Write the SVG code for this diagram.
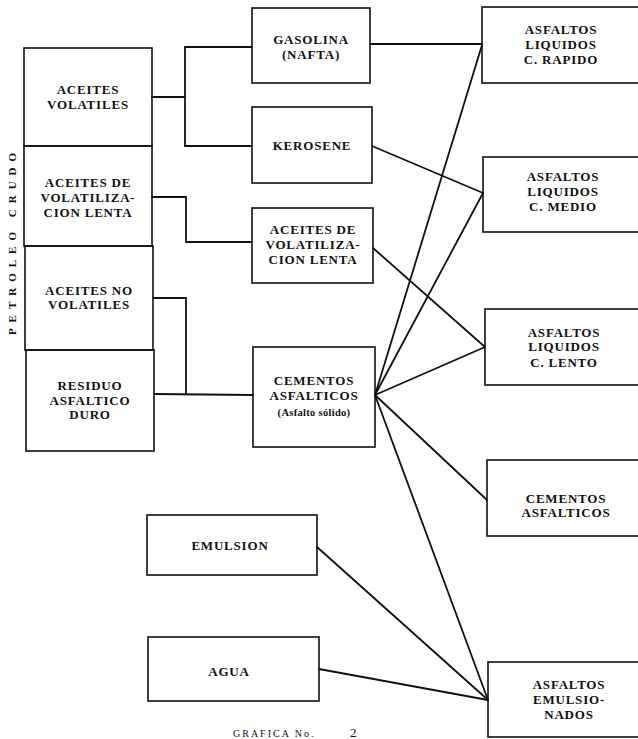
<svg xmlns="http://www.w3.org/2000/svg" width="638" height="739" viewBox="0 0 638 739">
<style>
.box{fill:none;stroke:#111;stroke-width:1.6}
.ln{fill:none;stroke:#111;stroke-width:1.8;stroke-linecap:round;stroke-linejoin:miter}
text{font-family:"Liberation Serif","Times New Roman",serif;font-weight:bold;font-size:13px;fill:#111;text-anchor:middle;letter-spacing:0.8px}
.sm{font-size:10.5px;letter-spacing:0.3px}
</style>
<rect width="638" height="739" fill="#fff"/>
<g id="petroleo-crudo">
<text transform="translate(16,241) rotate(-90)" style="font-size:11px;letter-spacing:6px">PETROLEO CRUDO</text>
</g>
<g id="aceites-volatiles">
<rect class="box" x="24" y="48" width="128" height="98"/>
<text x="88" y="94">ACEITES</text><text x="88" y="109">VOLATILES</text>
</g>
<g id="aceites-volatilizacion-lenta-1">
<rect class="box" x="24" y="146" width="128" height="100"/>
<text x="88" y="187">ACEITES DE</text><text x="88" y="202">VOLATILIZA-</text><text x="88" y="217">CION LENTA</text>
</g>
<g id="aceites-no-volatiles">
<rect class="box" x="25" y="246" width="128" height="104"/>
<text x="89" y="295">ACEITES NO</text><text x="89" y="309">VOLATILES</text>
</g>
<g id="residuo-asfaltico-duro">
<rect class="box" x="26" y="350" width="128" height="101"/>
<text x="90" y="390">RESIDUO</text><text x="90" y="405">ASFALTICO</text><text x="90" y="419">DURO</text>
</g>
<g id="gasolina">
<rect class="box" x="252" y="8" width="118" height="75"/>
<text x="311" y="44">GASOLINA</text><text x="311" y="59">(NAFTA)</text>
</g>
<g id="kerosene">
<rect class="box" x="252" y="107" width="120" height="76"/>
<text x="312" y="150">KEROSENE</text>
</g>
<g id="aceites-volatilizacion-lenta-2">
<rect class="box" x="252" y="208" width="121" height="75"/>
<text x="313" y="234">ACEITES DE</text><text x="313" y="249">VOLATILIZA-</text><text x="313" y="264">CION LENTA</text>
</g>
<g id="cementos-asfalticos-solido">
<rect class="box" x="253" y="347" width="122" height="100"/>
<text x="314" y="385">CEMENTOS</text><text x="314" y="400">ASFALTICOS</text><text class="sm" x="314" y="416">(Asfalto sólido)</text>
</g>
<g id="emulsion">
<rect class="box" x="147" y="515" width="170" height="60"/>
<text x="230" y="550">EMULSION</text>
</g>
<g id="agua">
<rect class="box" x="148" y="637" width="171" height="64"/>
<text x="229" y="676">AGUA</text>
</g>
<g id="asfaltos-c-rapido">
<rect class="box" x="482" y="7" width="170" height="76"/>
<text x="561" y="34">ASFALTOS</text><text x="561" y="49">LIQUIDOS</text><text x="561" y="64">C. RAPIDO</text>
</g>
<g id="asfaltos-c-medio">
<rect class="box" x="483" y="157" width="170" height="75"/>
<text x="563" y="181">ASFALTOS</text><text x="563" y="196">LIQUIDOS</text><text x="563" y="211">C. MEDIO</text>
</g>
<g id="asfaltos-c-lento">
<rect class="box" x="485" y="309" width="170" height="76"/>
<text x="564" y="337">ASFALTOS</text><text x="564" y="351">LIQUIDOS</text><text x="564" y="367">C. LENTO</text>
</g>
<g id="cementos-asfalticos">
<rect class="box" x="487" y="460" width="170" height="76"/>
<text x="566" y="503">CEMENTOS</text><text x="566" y="517">ASFALTICOS</text>
</g>
<g id="asfaltos-emulsionados">
<rect class="box" x="488" y="662" width="170" height="75"/>
<text x="569" y="689">ASFALTOS</text><text x="569" y="704">EMULSIO-</text><text x="569" y="719">NADOS</text>
</g>
<g id="connectors">
<polyline class="ln" points="152,97 185,97"/>
<polyline class="ln" points="252,47 185,47 185,146 252,146"/>
<polyline class="ln" points="152,197 186,197 186,242 252,242"/>
<polyline class="ln" points="153,298 186,298 186,394"/>
<polyline class="ln" points="154,394 253,395"/>
<line class="ln" x1="370" y1="44" x2="482" y2="44"/>
<line class="ln" x1="372" y1="146" x2="483" y2="193"/>
<line class="ln" x1="373" y1="248" x2="485" y2="347"/>
<line class="ln" x1="375" y1="395" x2="482" y2="45"/>
<line class="ln" x1="375" y1="395" x2="483" y2="193"/>
<line class="ln" x1="375" y1="395" x2="485" y2="347"/>
<line class="ln" x1="375" y1="395" x2="487" y2="500"/>
<line class="ln" x1="375" y1="395" x2="488" y2="700"/>
<line class="ln" x1="317" y1="547" x2="488" y2="700"/>
<line class="ln" x1="319" y1="669" x2="488" y2="700"/>
</g>
<g id="caption">
<text x="233" y="737" style="text-anchor:start;font-size:10px;letter-spacing:2px;font-weight:normal">GRAFICA No.</text>
<text x="350" y="737" style="text-anchor:start;font-size:13px;font-weight:normal">2</text>
</g>
</svg>
